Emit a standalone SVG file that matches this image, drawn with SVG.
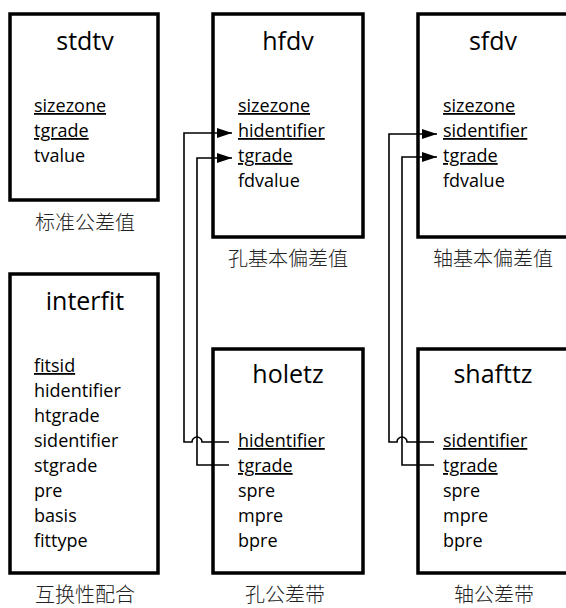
<svg xmlns="http://www.w3.org/2000/svg" width="566" height="608" viewBox="0 0 566 608">
<style>
.box{fill:#fff;stroke:#000;stroke-width:3.5}
.title{font-family:"Open Sans","Liberation Sans",sans-serif;font-size:25px;fill:#000;text-anchor:middle}
.fld{font-family:"Open Sans","Liberation Sans",sans-serif;font-size:18px;fill:#000}
.key{text-decoration:underline}
.cap{font-family:"Noto Sans CJK SC",sans-serif;font-size:20px;fill:#222;text-anchor:middle;font-weight:300}
.conn{fill:none;stroke:#000;stroke-width:1.6}
</style>
<defs>
<marker id="arr" markerUnits="userSpaceOnUse" markerWidth="16" markerHeight="12" refX="15" refY="5" orient="auto">
<path d="M0,0 L15,5 L0,10 Z" fill="#000"/>
</marker>
</defs>
<rect width="566" height="608" fill="#fff"/>

<g id="stdtv">
<rect class="box" x="10" y="14" width="148" height="186"/>
<text class="title" x="85" y="50">stdtv</text>
<text class="fld key" x="34" y="112">sizezone</text>
<text class="fld key" x="34" y="137">tgrade</text>
<text class="fld" x="34" y="162">tvalue</text>
<text class="cap" x="85" y="230">标准公差值</text>
</g>

<g id="hfdv">
<rect class="box" x="213" y="14" width="150" height="223"/>
<text class="title" x="288" y="50">hfdv</text>
<text class="fld key" x="238" y="112">sizezone</text>
<text class="fld key" x="238" y="137">hidentifier</text>
<text class="fld key" x="238" y="162">tgrade</text>
<text class="fld" x="238" y="187">fdvalue</text>
<text class="cap" x="288" y="266">孔基本偏差值</text>
</g>

<g id="sfdv">
<rect class="box" x="418" y="14" width="151" height="223"/>
<text class="title" x="493" y="50">sfdv</text>
<text class="fld key" x="443" y="112">sizezone</text>
<text class="fld key" x="443" y="137">sidentifier</text>
<text class="fld key" x="443" y="162">tgrade</text>
<text class="fld" x="443" y="187">fdvalue</text>
<text class="cap" x="493" y="266">轴基本偏差值</text>
</g>

<g id="interfit">
<rect class="box" x="10" y="274" width="148" height="299"/>
<text class="title" x="85" y="310">interfit</text>
<text class="fld key" x="34" y="372">fitsid</text>
<text class="fld" x="34" y="397">hidentifier</text>
<text class="fld" x="34" y="422">htgrade</text>
<text class="fld" x="34" y="447">sidentifier</text>
<text class="fld" x="34" y="472">stgrade</text>
<text class="fld" x="34" y="497">pre</text>
<text class="fld" x="34" y="522">basis</text>
<text class="fld" x="34" y="547">fittype</text>
<text class="cap" x="85" y="602">互换性配合</text>
</g>

<g id="holetz">
<rect class="box" x="213" y="349" width="150" height="224"/>
<text class="title" x="288" y="383">holetz</text>
<text class="fld key" x="238" y="447">hidentifier</text>
<text class="fld key" x="238" y="472">tgrade</text>
<text class="fld" x="238" y="497">spre</text>
<text class="fld" x="238" y="522">mpre</text>
<text class="fld" x="238" y="547">bpre</text>
<text class="cap" x="285" y="602">孔公差带</text>
</g>

<g id="shafttz">
<rect class="box" x="418" y="349" width="151" height="224"/>
<text class="title" x="493" y="383">shafttz</text>
<text class="fld key" x="443" y="447">sidentifier</text>
<text class="fld key" x="443" y="472">tgrade</text>
<text class="fld" x="443" y="497">spre</text>
<text class="fld" x="443" y="522">mpre</text>
<text class="fld" x="443" y="547">bpre</text>
<text class="cap" x="494" y="602">轴公差带</text>
</g>

<g id="connectors">
<path class="conn" d="M229,442 H202 A5,5 0 0 0 192,442 H184 V133 H232" marker-end="url(#arr)"/>
<path class="conn" d="M229,465 H197 V158 H232" marker-end="url(#arr)"/>
<path class="conn" d="M434,442 H407 A5,5 0 0 0 397,442 H389 V134 H437" marker-end="url(#arr)"/>
<path class="conn" d="M434,465 H402 V157 H437" marker-end="url(#arr)"/>
</g>
</svg>
